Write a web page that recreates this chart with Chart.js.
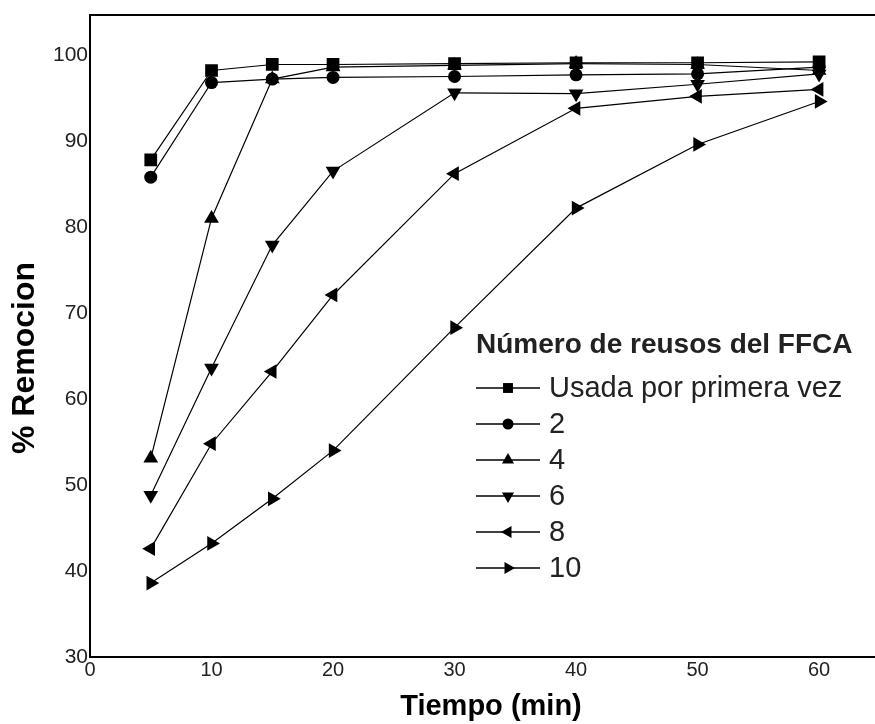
<!DOCTYPE html>
<html>
<head>
<meta charset="utf-8">
<script src="https://cdn.jsdelivr.net/npm/chart.js"></script>
<style>
html, body { margin: 0; padding: 0; background: #fff; }
</style>
</head>
<body>
<canvas id="plot" width="875" height="724"></canvas>
<script>
// tiempo (min) y % remocion por numero de reusos
var tiempos = [5, 10, 15, 20, 30, 40, 50, 60];
var etiquetas = ["Usada por primera vez", "2", "4", "6", "8", "10"];
var uso1 = [87.8, 98.2, 98.9, 98.9, 99.0, 99.1, 99.1, 99.2];
var uso2 = [85.8, 96.8, 97.2, 97.4, 97.5, 97.7, 97.8, 98.6];
var uso4 = [53.1, 81.0, 97.2, 98.6, 98.8, 99.0, 98.9, 98.2];
var uso6 = [48.8, 63.6, 77.9, 86.5, 95.6, 95.5, 96.6, 97.8];
var uso8 = [42.6, 54.8, 63.2, 72.1, 86.2, 93.8, 95.2, 96.0];
var uso10 = [38.6, 43.2, 48.4, 54.0, 68.3, 82.2, 89.6, 94.6];
var xTicks = [0, 10, 20, 30, 40, 50, 60];
var yTicks = [30, 40, 50, 60, 70, 80, 90, 100];
var tituloX = "Tiempo (min)";
var tituloY = "% Remocion";
var tituloLeyenda = "Número de reusos del FFCA";

var FONT = "'Liberation Sans', Arial, sans-serif";
var TEXT = "#222";

var estilos = [
    {pointStyle: "rect", rotation: 0, radius: 9, legendRadius: 7},
    {pointStyle: "circle", rotation: 0, radius: 6.5, legendRadius: 5.5},
    {pointStyle: "triangle", rotation: 0, radius: 8.5, legendRadius: 7},
    {pointStyle: "triangle", rotation: 180, radius: 8.5, legendRadius: 7},
    {pointStyle: "triangle", rotation: 270, radius: 8.5, legendRadius: 7},
    {pointStyle: "triangle", rotation: 90, radius: 8.5, legendRadius: 7},
];

function serie(values) {
    return values.map((v, i) => {
        return {x: tiempos[i], y: v}
    });
}

var series = [uso1, uso2, uso4, uso6, uso8, uso10];
var datasets = series.map((s, i) => {
    return {
        label: etiquetas[i],
        data: serie(s),
        showLine: true,
        borderColor: "#000",
        backgroundColor: "#000",
        borderWidth: 1.2,
        pointStyle: estilos[i].pointStyle,
        pointRotation: estilos[i].rotation,
        pointRadius: estilos[i].radius,
        pointBorderWidth: 0,
    }
});

// axis titles sit a bit off-centre in the original, so draw them here
var titulosPlugin = {
    id: "titulos",
    afterDraw: function(chart) {
        var ctx = chart.ctx;
        ctx.save();
        ctx.fillStyle = "#000";
        ctx.textAlign = "center";
        ctx.textBaseline = "middle";
        ctx.font = "bold 29px " + FONT;
        ctx.fillText(tituloX, 491, 707);
        ctx.translate(25, 358);
        ctx.rotate(-Math.PI / 2);
        ctx.font = "bold 32px " + FONT;
        ctx.fillText(tituloY, 0, 0);
        ctx.restore();
    }
};

// legend drawn by hand: line with marker through it, like the original
var leyendaPlugin = {
    id: "leyenda",
    afterDatasetsDraw: function(chart) {
        var ctx = chart.ctx;
        var x0 = 476, x1 = 540, xm = 508, xt = 549;
        var yTitle = 345, y0 = 388, dy = 36;
        ctx.save();
        ctx.fillStyle = TEXT;
        ctx.textBaseline = "middle";
        ctx.textAlign = "left";
        ctx.font = "bold 28px " + FONT;
        ctx.fillText(tituloLeyenda, x0, yTitle);
        ctx.font = "29px " + FONT;
        chart.data.datasets.forEach((ds, i) => {
            var y = y0 + i * dy;
            ctx.strokeStyle = "#000";
            ctx.lineWidth = 1.5;
            ctx.beginPath();
            ctx.moveTo(x0, y);
            ctx.lineTo(x1, y);
            ctx.stroke();
            ctx.fillStyle = "#000";
            Chart.helpers.drawPoint(ctx, {
                pointStyle: estilos[i].pointStyle,
                rotation: estilos[i].rotation,
                radius: estilos[i].legendRadius,
                borderWidth: 0,
            }, xm, y);
            ctx.fillStyle = TEXT;
            ctx.fillText(ds.label, xt, y + 1);
        });
        ctx.restore();
    }
};

var chart = new Chart(document.getElementById("plot"), {
    type: "scatter",
    data: {datasets: datasets},
    plugins: [leyendaPlugin, titulosPlugin],
    options: {
        responsive: false,
        animation: false,
        devicePixelRatio: 1,
        layout: {autoPadding: false, padding: {top: 13, right: 0, bottom: 0, left: 0}},
        plugins: {
            legend: {display: false},
            tooltip: {enabled: false},
        },
        scales: {
            x: {
                type: "linear",
                position: "bottom",
                min: 0,
                max: 64.6,
                grid: {display: false, drawTicks: false},
                border: {display: true, color: "#000", width: 2},
                afterBuildTicks: function(s) {
                    s.ticks = xTicks.map(v => ({value: v}));
                },
                afterFit: function(s) { s.height = 67; },
                ticks: {
                    color: TEXT,
                    padding: 1,
                    maxRotation: 0,
                    font: {family: FONT, size: 20},
                },
            },
            xTop: {
                type: "linear",
                position: "top",
                min: 0,
                max: 64.6,
                grid: {display: false, drawTicks: false},
                border: {display: true, color: "#000", width: 2},
                ticks: {display: false},
                afterFit: function(s) { s.height = 0; },
            },
            y: {
                type: "linear",
                min: 30,
                max: 104.7,
                grid: {display: false, drawTicks: false},
                border: {display: true, color: "#000", width: 2},
                afterBuildTicks: function(s) {
                    s.ticks = yTicks.map(v => ({value: v}));
                },
                afterFit: function(s) { s.width = 90; },
                ticks: {
                    color: TEXT,
                    padding: 2,
                    font: {family: FONT, size: 21},
                },
            },
        },
    },
});
</script>
</body>
</html>
